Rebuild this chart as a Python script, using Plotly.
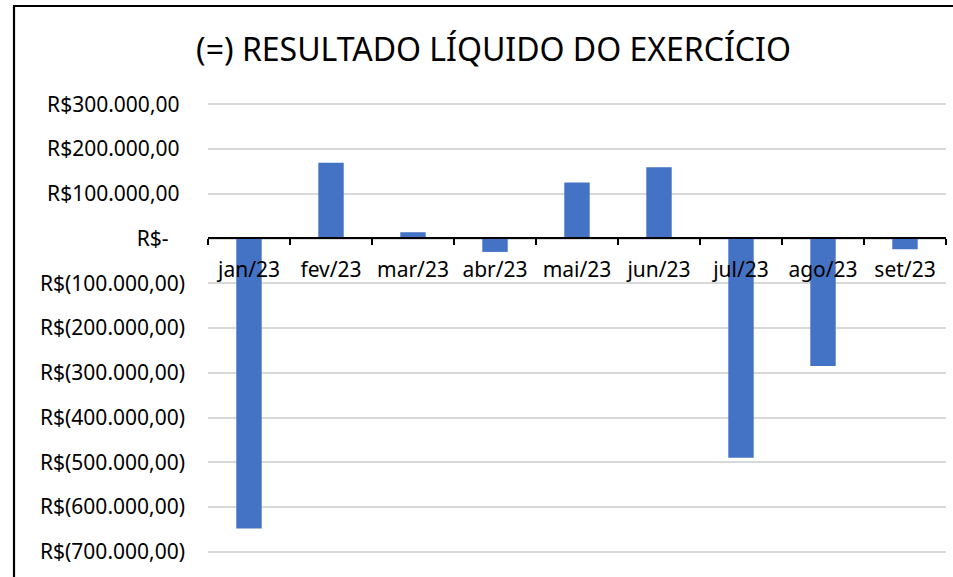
import plotly.graph_objects as go

meses = ["jan/23", "fev/23", "mar/23", "abr/23", "mai/23", "jun/23", "jul/23", "ago/23", "set/23"]
resultado = [-648000, 169000, 14000, -30000, 125000, 159000, -490000, -285000, -24000]

y_ticks = [300000, 200000, 100000, 0, -100000, -200000, -300000, -400000, -500000, -600000, -700000]
y_labels = ["R$300.000,00\u00a0", "R$200.000,00\u00a0", "R$100.000,00\u00a0", "R$-\u00a0\u00a0\u00a0",
            "R$(100.000,00)", "R$(200.000,00)", "R$(300.000,00)", "R$(400.000,00)",
            "R$(500.000,00)", "R$(600.000,00)", "R$(700.000,00)"]
titulo = "(=) RESULTADO LÍQUIDO DO EXERCÍCIO"

y_min, y_max = -705000, 305000
FONT = "Noto Sans"

fig = go.Figure(go.Bar(x=meses, y=resultado, marker=dict(color="#4472C4", line=dict(width=0))))

fig.update_layout(
    width=953, height=577,
    margin=dict(l=208, r=7, t=102, b=23),
    paper_bgcolor="white", plot_bgcolor="white",
    bargap=0.69,
    showlegend=False,
    title=dict(text=titulo, x=493.5 / 953, xanchor="center", y=1 - 50 / 577, yanchor="middle",
               font=dict(family=FONT, size=32, color="#000000")),
    font=dict(family=FONT, size=21, color="#000000"),
)

fig.update_yaxes(
    range=[y_min, y_max], tickvals=y_ticks, ticktext=y_labels,
    showgrid=True, gridcolor="#D9D9D9", gridwidth=1.5,
    zeroline=False, showline=False, ticks="",
    ticklabelstandoff=22,
    tickfont=dict(family=FONT, size=21, color="#000000"),
)

fig.update_xaxes(
    anchor="free", position=(0 - y_min) / (y_max - y_min),
    showline=True, linecolor="#000000", linewidth=2,
    ticks="outside", tickson="boundaries", ticklen=6, tickwidth=2, tickcolor="#000000",
    showgrid=False, ticklabelstandoff=12,
    tickfont=dict(family=FONT, size=21, color="#000000"),
)

# chart border (extends past the visible area on right and bottom)
fig.add_shape(type="rect", xref="paper", yref="paper",
              x0=(14 - 208) / 738, x1=1.2, y0=-0.3, y1=(577 - 23 - 6) / 452,
              line=dict(color="#000000", width=2.2), fillcolor="rgba(0,0,0,0)", layer="above")

fig.write_html("out.html", config={"displayModeBar": False},
               post_script="document.body.style.margin='0';document.body.style.overflow='hidden';")
